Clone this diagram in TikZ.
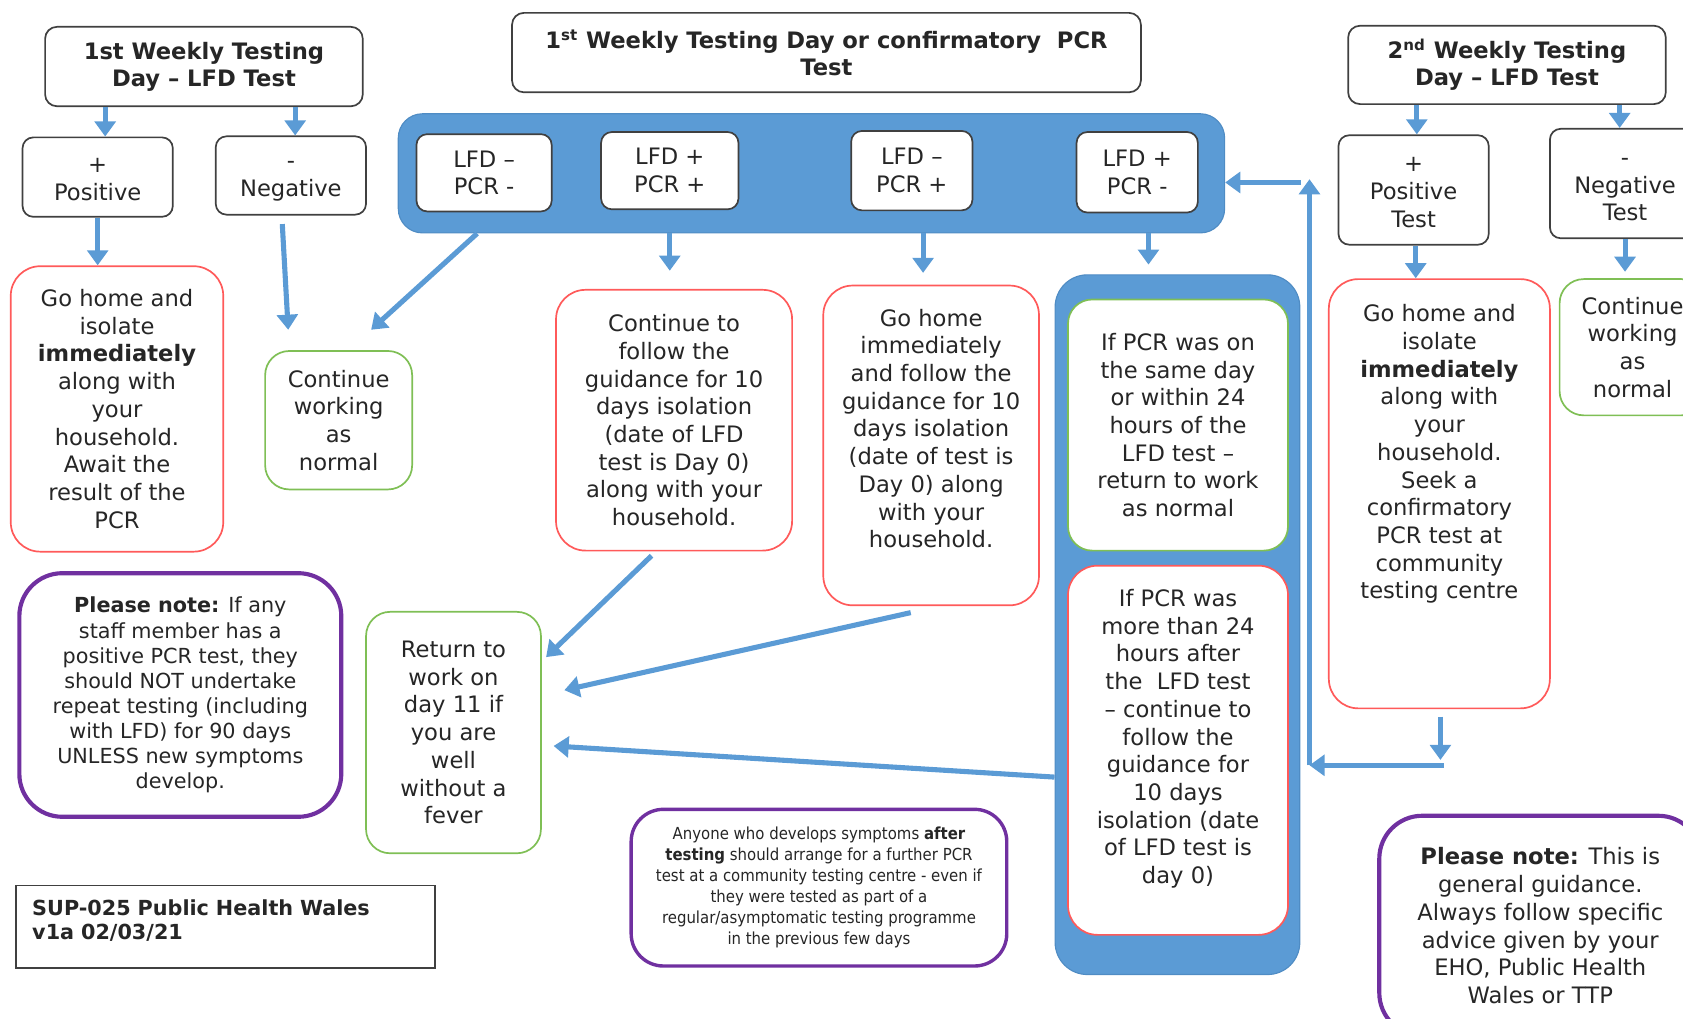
\documentclass[tikz,border=0pt]{standalone}
\usepackage{fontspec}
\setmainfont{DejaVu Sans}
\newfontfamily\narrowfont[FakeStretch=0.9]{DejaVu Sans}
\usetikzlibrary{
  shapes,
  arrows.meta,
  calc,
}
\definecolor{flowblue}{HTML}{5B9BD5}
\definecolor{flowedge}{HTML}{4F8CC4}
\definecolor{stopred}{HTML}{FF5A5A}
\definecolor{gogreen}{HTML}{7FBF55}
\definecolor{notepurple}{HTML}{7030A0}
\definecolor{boxgrey}{HTML}{404040}
\definecolor{inkgrey}{HTML}{262626}
\tikzstyle{testday} = [
rectangle,
draw=boxgrey,
line width=0.9pt,
fill=white,
rounded corners=0.22cm,
inner sep=2pt,
text badly centered,
font=\bfseries\fontsize{12}{14.3}\selectfont
]
\tikzstyle{outcome} = [
rectangle,
draw=boxgrey,
line width=0.9pt,
fill=white,
rounded corners=0.2cm,
inner sep=2pt,
text badly centered
]
\tikzstyle{isolate} = [
rectangle,
draw=stopred,
line width=0.9pt,
fill=white,
rounded corners=0.55cm,
inner sep=2pt,
text badly centered
]
\tikzstyle{carryon} = [
rectangle,
draw=gogreen,
line width=0.9pt,
fill=white,
rounded corners=0.45cm,
inner sep=2pt,
text badly centered
]
\tikzstyle{notice} = [
rectangle,
draw=notepurple,
line width=2.2pt,
fill=white,
rounded corners=0.8cm,
inner sep=2pt,
text badly centered
]
\tikzstyle{stamp} = [
rectangle,
draw=boxgrey,
line width=0.9pt,
fill=white,
inner sep=2pt,
align=left,
font=\bfseries\fontsize{11}{13}\selectfont
]
\tikzstyle{panel} = [rectangle, draw=flowedge, line width=0.6pt, fill=flowblue, rounded corners=0.45cm]
\tikzstyle{arrow} = [draw=flowblue, line width=2.7pt, -{Triangle[length=8pt,width=11pt]}]

\begin{document}
\begin{tikzpicture}[x=0.02cm, y=-0.02cm, text=inkgrey, font=\fontsize{12}{14.7}\selectfont]
  \useasboundingbox (0,0) rectangle (1568,949);
  \clip (0,0) rectangle (1568,949);

  % Place nodes
  \node [testday, text width=5.6cm, minimum width=5.92cm, minimum height=1.48cm] (hdrA) at (190,62) {1st Weekly Testing\\ Day – LFD Test};
  \node [outcome, text width=2.5cm, minimum width=2.8cm, minimum height=1.48cm] (posA) at (91,165) {\strut+\\ Positive};
  \node [outcome, text width=2.5cm, minimum width=2.8cm, minimum height=1.46cm] (negA) at (271,163.5) {\strut-\\ Negative};
  \node [isolate, text width=3.7cm, minimum width=3.96cm, minimum height=5.32cm] (homeA) at (109,381) {Go home and\\ isolate\\ \textbf{immediately}\\ along with\\ your\\ household.\\ Await the\\ result of the\\ PCR};
  \node [carryon, text width=2.5cm, minimum width=2.74cm, minimum height=2.58cm] (workA) at (315.5,391.5) {Continue\\ working\\ as\\ normal};

  \node [testday, text width=11.4cm, minimum width=11.72cm, minimum height=1.48cm] (hdrB) at (770,49) {1\textsuperscript{st} Weekly Testing Day or confirmatory~ PCR\\ Test};
  \node [panel, minimum width=15.4cm, minimum height=2.22cm] (results) at (756,161.5) {};
  \node [outcome, text width=2.2cm, minimum width=2.52cm, minimum height=1.44cm] (lfdA) at (451,161) {LFD –\\ PCR -};
  \node [outcome, text width=2.2cm, minimum width=2.56cm, minimum height=1.44cm] (lfdB) at (624,159) {LFD +\\ PCR +};
  \node [outcome, text width=2cm, minimum width=2.26cm, minimum height=1.48cm] (lfdC) at (849.5,159) {LFD –\\ PCR +};
  \node [outcome, text width=2cm, minimum width=2.26cm, minimum height=1.5cm] (lfdD) at (1059.5,160.5) {LFD +\\ PCR -};

  \node [isolate, text width=4.1cm, minimum width=4.4cm, minimum height=4.86cm] (isoB) at (628,391.5) {Continue to\\ follow the\\ guidance for 10\\ days isolation\\ (date of LFD\\ test is Day 0)\\ along with your\\ household.};
  \node [isolate, text width=3.8cm, minimum width=4.02cm, minimum height=5.96cm] (isoC) at (867.5,415) {Go home\\ immediately\\ and follow the\\ guidance for 10\\ days isolation\\ (date of test is\\ Day 0) along\\ with your\\ household.\\[0.12cm]\mbox{}};

  \node [panel, rounded corners=0.6cm, minimum width=4.56cm, minimum height=13.04cm] (split) at (1097,582) {};
  \node [carryon, text width=3.8cm, minimum width=4.1cm, minimum height=4.68cm] (sameday) at (1097.5,396) {If PCR was on\\ the same day\\ or within 24\\ hours of the\\ LFD test –\\ return to work\\ as normal};
  \node [isolate, text width=3.8cm, minimum width=4.1cm, minimum height=6.88cm] (later) at (1097.5,699) {If PCR was\\ more than 24\\ hours after\\ the~ LFD test\\ – continue to\\ follow the\\ guidance for\\ 10 days\\ isolation (date\\ of LFD test is\\ day 0)\\ \mbox{}};

  \node [testday, text width=5.6cm, minimum width=5.92cm, minimum height=1.46cm] (hdrC) at (1404,60.5) {2\textsuperscript{nd} Weekly Testing\\ Day – LFD Test};
  \node [outcome, text width=2.5cm, minimum width=2.8cm, minimum height=2.04cm] (posC) at (1317,177) {\strut+\\ Positive\\ Test};
  \node [outcome, text width=2.5cm, minimum width=2.8cm, minimum height=2.04cm] (negC) at (1514,171) {\strut-\\ Negative\\ Test};
  \node [isolate, text width=3.8cm, minimum width=4.12cm, minimum height=8cm] (homeC) at (1341,460) {Go home and\\ isolate\\ \textbf{immediately}\\ along with\\ your\\ household.\\ Seek a\\ confirmatory\\ PCR test at\\ community\\ testing centre\\[1.05cm]\mbox{}};
  \node [carryon, text width=2.5cm, minimum width=2.72cm, minimum height=2.54cm] (workC) at (1521,323.5) {Continue\\ working\\ as\\ normal};

  \node [carryon, text width=3cm, minimum width=3.26cm, minimum height=4.5cm] (returnD) at (422.5,682.5) {Return to\\ work on\\ day 11 if\\ you are\\ well\\ without a\\ fever};
  \node [notice, text width=5.7cm, minimum width=6cm, minimum height=4.54cm, font=\fontsize{11}{13.3}\selectfont] (noteA) at (168,647.5) {\textbf{Please note:} If any\\ staff member has a\\ positive PCR test, they\\ should NOT undertake\\ repeat testing (including\\ with LFD) for 90 days\\ UNLESS new symptoms\\ develop.};
  \node [stamp, text width=7.2cm, minimum width=7.8cm, minimum height=1.54cm] (sup) at (210,863.5) {SUP-025 Public Health Wales\\ v1a 02/03/21\\[-0.18cm]\mbox{}};
  \node [notice, line width=1.8pt, rounded corners=0.6cm, text width=6.6cm, minimum width=7cm, minimum height=2.92cm, font=\narrowfont\fontsize{8.8}{11.1}\selectfont] (noteB) at (763,827) {Anyone who develops symptoms \textbf{after}\\ \textbf{testing} should arrange for a further PCR\\ test at a community testing centre - even if\\ they were tested as part of a\\ regular/asymptomatic testing programme\\ in the previous few days};
  \node [notice, text width=5.6cm, minimum width=6cm, minimum height=4.1cm] (noteC) at (1435,862.5) {\textbf{Please note:} This is\\ general guidance.\\ Always follow specific\\ advice given by your\\ EHO, Public Health\\ Wales or TTP};

  \coordinate (drop) at (1342,708);
  \coordinate (hook) at (1345,713);
  \coordinate (corner) at (1220,713);
  \coordinate (rise) at (1220,167);
  \coordinate (loop) at (1212,170);

  % Draw edges
  \path [arrow] (hdrA.south -| 98,0) -- (posA.north -| 98,0);
  \path [arrow] (hdrA.south -| 275,0) -- (negA.north -| 275,0);
  \path [arrow] (posA.south -| 91,0) -- (homeA.north -| 91,0);
  \path [arrow] ($(negA.south)+(-8,8)$) -- ($(workA.north)+(-47,-19)$);

  \path [arrow] ($(results.south west)+(74,0)$) -- ($(workA.north east)+(-39,-19)$);
  \path [arrow, shorten >=0.34cm] (results.south -| 624,0) -- (isoB.north -| 624,0);
  \path [arrow, shorten >=0.22cm] (results.south -| 860,0) -- (isoC.north -| 860,0);
  \path [arrow, shorten >=0.18cm] (results.south -| 1070,0) -- (split.north -| 1070,0);

  \path [arrow] (hdrC.south -| 1320,0) -- (posC.north -| 1320,0);
  \path [arrow] (hdrC.south -| 1509,0) -- (negC.north -| 1509,0);
  \path [arrow] (posC.south -| 1319,0) -- (homeC.north -| 1319,0);
  \path [arrow, shorten >=0.12cm] (negC.south -| 1514,0) -- (workC.north -| 1514,0);

  \path [arrow, shorten <=0.14cm] (homeC.south -| drop) -- (drop);
  \path [arrow] (hook) -- (corner);
  \path [arrow] (corner) -- (rise);
  \path [arrow] (loop) -- (loop -| results.east);

  \path [arrow] ($(isoB.south)+(-21,4)$) -- ($(returnD.north east)+(4,43)$);
  \path [arrow] ($(isoC.south)+(-19,6)$) -- ($(returnD.east)+(21,-39.5)$);
  \path [arrow] ($(split.west)+(0,142)$) -- ($(returnD.east)+(11,12.5)$);

\end{tikzpicture}
\end{document}
